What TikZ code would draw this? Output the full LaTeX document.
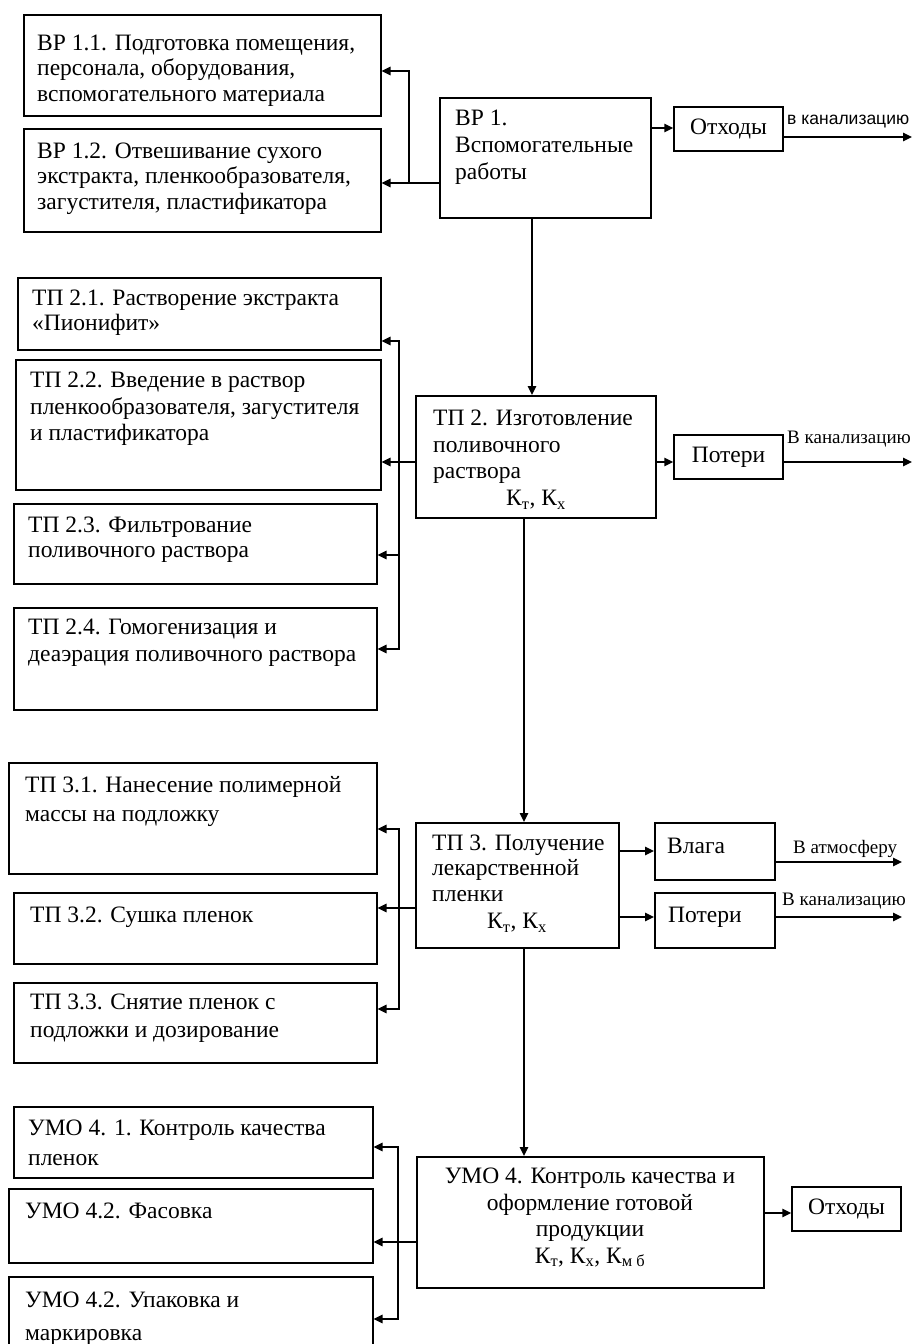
\documentclass[tikz,border=0pt]{standalone}
\usepackage{fontspec}
\setmainfont{Liberation Serif}
\newfontfamily\labsans{Liberation Sans}
\usetikzlibrary{arrows.meta}
\begin{document}
\begin{tikzpicture}[x=1pt,y={(0pt,-1pt)},
  box/.style={draw, line width=1.5pt, inner sep=0pt, anchor=north west},
  sbox/.style={draw, line width=1.5pt, inner sep=0pt, font=\fontsize{23.5}{25.5}\selectfont},
  txt/.style={anchor=north west, inner sep=0pt, align=left, font=\fontsize{23.5}{25.5}\selectfont},
  ctxt/.style={anchor=north, inner sep=0pt, align=center, font=\fontsize{23.5}{26.5}\selectfont},
  lab/.style={anchor=base west, inner sep=0pt, font=\fontsize{19}{21}\selectfont},
  labs/.style={anchor=base west, inner sep=0pt, font=\labsans\fontsize{17.5}{20}\selectfont},
  ln/.style={line width=1.5pt},
  arr/.style={line width=1.5pt, -{Triangle[length=9pt,width=8.5pt]}},
  arr2/.style={line width=1.5pt, {Triangle[length=9pt,width=8.5pt]}-{Triangle[length=9pt,width=8.5pt]}}
]
\useasboundingbox (0,0) rectangle (913,1344);

% ---------- ВР 1 ----------
\node[box, minimum width=357, minimum height=101] (b11) at (23,14) {};
\node[txt] (t11) at (37,32) {\strut ВР 1.1. Подготовка помещения,\\персонала, оборудования,\\вспомогательного материала};
\node[box, minimum width=357, minimum height=103] (b12) at (23,128) {};
\node[txt] (t12) at (37,140) {\strut ВР 1.2. Отвешивание  сухого\\экстракта, пленкообразователя,\\загустителя, пластификатора};
\node[box, minimum width=211, minimum height=120] (b1) at (439,97) {};
\node[txt, font=\fontsize{23.5}{27}\selectfont] (t1) at (455,106) {\strut ВР 1.\\Вспомогательные\\работы};
\node[sbox, minimum width=109, minimum height=44] (o1) at (728.5,129) {Отходы};
\node[labs] (l1) at (787,124) {в канализацию};

\coordinate (j1a) at (409,71);
\coordinate (j1b) at (409,183);
\draw[ln] (b1.west |- j1b) -- (j1b);
\draw[arr] (j1b) -- (b12.east |- j1b);
\draw[arr] (j1b) -- (j1a) -- (b11.east |- j1a);
\draw[arr] (b1.east |- 0,128) -- (o1.west |- 0,128);
\coordinate (e1) at (912,137);
\draw[arr] (o1.east |- e1) -- (e1);
\draw[arr] (b1.south -| 532,0) -- (532,395);

% ---------- ТП 2 ----------
\node[box, minimum width=363, minimum height=72] (b21) at (17,277) {};
\node[txt] (t21) at (32,287) {\strut ТП 2.1. Растворение экстракта\\«Пионифит»};
\node[box, minimum width=365, minimum height=130] (b22) at (15,359) {};
\node[txt, font=\fontsize{23.5}{26.5}\selectfont] (t22) at (30,369) {\strut ТП 2.2. Введение в раствор\\пленкообразователя, загустителя\\и пластификатора};
\node[box, minimum width=363, minimum height=80] (b23) at (13,503) {};
\node[txt] (t23) at (28,514) {\strut ТП 2.3. Фильтрование\\поливочного раствора};
\node[box, minimum width=363, minimum height=102] (b24) at (13,607) {};
\node[txt, font=\fontsize{23.5}{27}\selectfont] (t24) at (28,615) {\strut ТП 2.4. Гомогенизация и\\деаэрация поливочного раствора};
\node[box, minimum width=240, minimum height=122] (b2) at (415,395) {};
\node[txt, font=\fontsize{23.5}{26.5}\selectfont] (t2) at (433,407) {\strut ТП 2. Изготовление\\поливочного\\раствора};
\node[ctxt] (k2) at (536,487) {\strut К\textsubscript{т}, К\textsubscript{х}};
\node[sbox, minimum width=109, minimum height=44] (p2) at (728.5,457) {Потери};
\node[lab] (l2) at (787,443) {В канализацию};

\coordinate (j2t) at (399,341);
\coordinate (j2m) at (399,462);
\coordinate (j2c) at (399,555);
\coordinate (j2b) at (399,649);
\draw[ln] (b2.west |- j2m) -- (j2m);
\draw[arr] (j2m) -- (b22.east |- j2m);
\draw[arr2] (b21.east |- j2t) -- (j2t) -- (j2b) -- (b24.east |- j2b);
\draw[arr] (j2c) -- (b23.east |- j2c);
\draw[arr] (b2.east |- 0,462) -- (p2.west |- 0,462);
\coordinate (e2) at (912,462);
\draw[arr] (p2.east |- e2) -- (e2);
\draw[arr] (b2.south -| 524,0) -- (524,822);

% ---------- ТП 3 ----------
\node[box, minimum width=368, minimum height=111] (b31) at (8,762) {};
\node[txt, font=\fontsize{23.5}{29}\selectfont] (t31) at (25,772) {\strut ТП 3.1. Нанесение полимерной\\массы на подложку};
\node[box, minimum width=363, minimum height=71] (b32) at (13,892) {};
\node[txt] (t32) at (30,904) {\strut ТП 3.2. Сушка  пленок};
\node[box, minimum width=363, minimum height=80] (b33) at (13,982) {};
\node[txt, font=\fontsize{23.5}{28}\selectfont] (t33) at (30,990) {\strut ТП 3.3. Снятие пленок с\\подложки и дозирование};
\node[box, minimum width=203, minimum height=125] (b3) at (415,822) {};
\node[txt] (t3) at (432,832) {\strut ТП 3. Получение\\лекарственной\\пленки};
\node[ctxt] (k3) at (517,910) {\strut К\textsubscript{т}, К\textsubscript{х}};
\node[box, minimum width=120, minimum height=57] (v3) at (654,822) {};
\node[txt] (tv3) at (667,835) {\strut Влага};
\node[box, minimum width=120, minimum height=55] (p3) at (654,892) {};
\node[txt] (tp3) at (668,904) {\strut Потери};
\node[lab] (l3a) at (793,853) {В атмосферу};
\node[lab] (l3b) at (782,905) {В канализацию};

\coordinate (j3t) at (399,829);
\coordinate (j3m) at (399,908);
\coordinate (j3b) at (399,1009);
\draw[ln] (b3.west |- j3m) -- (j3m);
\draw[arr] (j3m) -- (b32.east |- j3m);
\draw[arr2] (b31.east |- j3t) -- (j3t) -- (j3b) -- (b33.east |- j3b);
\draw[arr] (b3.east |- 0,851) -- (v3.west |- 0,851);
\draw[arr] (b3.east |- 0,917) -- (p3.west |- 0,917);
\coordinate (e3a) at (902,862);
\coordinate (e3b) at (902,917);
\draw[arr] (v3.east |- e3a) -- (e3a);
\draw[arr] (p3.east |- e3b) -- (e3b);
\draw[arr] (b3.south -| 524,0) -- (524,1156);

% ---------- УМО 4 ----------
\node[box, minimum width=359, minimum height=71] (b41) at (13,1106) {};
\node[txt, font=\fontsize{23.5}{30}\selectfont] (t41) at (28,1114) {\strut УМО 4. 1. Контроль качества\\пленок};
\node[box, minimum width=364, minimum height=74] (b42) at (8,1188) {};
\node[txt] (t42) at (25,1200) {\strut УМО 4.2. Фасовка};
\node[box, minimum width=364, minimum height=80] (b43) at (8,1276) {};
\node[txt, font=\fontsize{23.5}{33}\selectfont] (t43) at (25,1284) {\strut УМО 4.2. Упаковка и\\маркировка};
\node[box, minimum width=347, minimum height=131] (b4) at (416,1156) {};
\node[ctxt] (t4) at (590,1165) {\strut УМО 4. Контроль качества и\\оформление готовой\\продукции\\К\textsubscript{т}, К\textsubscript{х}, К\textsubscript{м б}};
\node[sbox, minimum width=109, minimum height=44] (o4) at (846.5,1209) {Отходы};

\coordinate (j4t) at (398,1147);
\coordinate (j4m) at (398,1242);
\coordinate (j4b) at (398,1319);
\draw[ln] (b4.west |- j4m) -- (j4m);
\draw[arr] (j4m) -- (b42.east |- j4m);
\draw[arr2] (b41.east |- j4t) -- (j4t) -- (j4b) -- (b43.east |- j4b);
\draw[arr] (b4.east |- 0,1213) -- (o4.west |- 0,1213);
\end{tikzpicture}
\end{document}
